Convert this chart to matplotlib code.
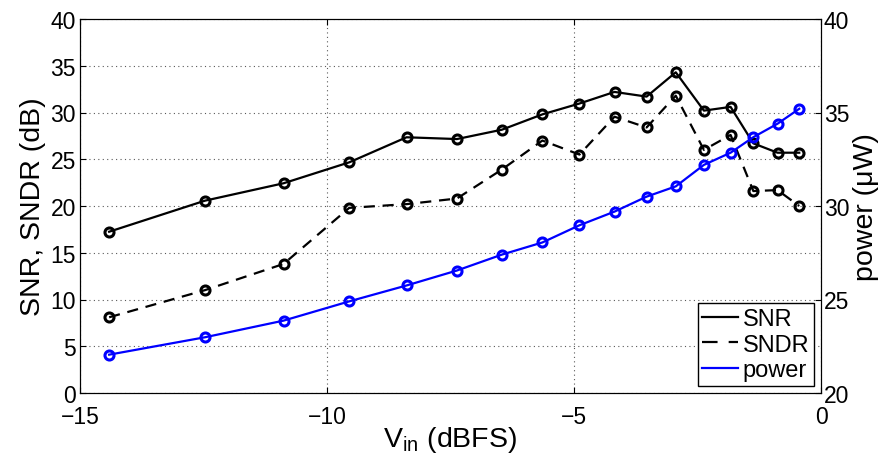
import numpy as np
import matplotlib
matplotlib.use("Agg")
from matplotlib import pyplot as plt
from matplotlib.lines import Line2D

plt.rcParams["font.family"] = ["Liberation Sans", "DejaVu Sans"]

# input level (dBFS)
vin = [-14.41, -12.47, -10.88, -9.55, -8.39, -7.37, -6.46, -5.64, -4.89,
       -4.18, -3.53, -2.94, -2.37, -1.83, -1.37, -0.88, -0.44]
snr = [17.25, 20.57, 22.43, 24.67, 27.35, 27.16, 28.16, 29.8, 30.96,
       32.2, 31.7, 34.3, 30.2, 30.6, 26.7, 25.7, 25.7]
sndr = [8.1, 11.0, 13.8, 19.8, 20.2, 20.8, 23.9, 27.0, 25.5,
        29.55, 28.4, 31.8, 26.0, 27.6, 21.6, 21.7, 20.0]
# power in uW (right axis)
power = [22.05, 22.98, 23.87, 24.9, 25.75, 26.55, 27.4, 28.05, 28.97,
         29.7, 30.5, 31.05, 32.2, 32.85, 33.68, 34.4, 35.2]

fig = plt.figure(figsize=(8.85, 4.56), dpi=100)
ax = fig.add_axes([80 / 885, 1 - 394 / 456, 741 / 885, 374 / 456])

ax.plot(vin, snr, "-", color="k", lw=1.6, marker="o", ms=6.5, mfc="none", mew=2.2)
ax.plot(vin, sndr, "--", color="k", lw=1.6, dashes=(5, 3.5), marker="o", ms=6.5,
        mfc="none", mew=2.2)

ax.set_xlim(-15, 0)
ax.set_ylim(0, 40)
ax.set_xticks([-15, -10, -5, 0])
ax.set_yticks(np.arange(0, 41, 5))
ax.grid(True, color="0.35", linestyle=(0, (1, 3)), lw=0.8)
ax.tick_params(direction="in", labelsize=16.5, top=True, length=4)
ax.tick_params(axis="x", pad=9)
ax.tick_params(axis="y", pad=3)
ax.set_ylabel("SNR, SNDR (dB)", fontsize=20.5, labelpad=3)
ax.set_xlabel("V$_{\\mathregular{in}}$ (dBFS)", fontsize=20.5, labelpad=-3)

ax2 = ax.twinx()
ax2.plot(vin, power, "-", color="#0000ff", lw=1.6, marker="o", ms=6.5, mfc="none", mew=2.2)
ax2.set_ylim(20, 40)
ax2.set_yticks(np.arange(20, 41, 5))
ax2.tick_params(direction="in", labelsize=16.5, length=4, pad=2)
ax2.set_ylabel("power (\u03bcW)", fontsize=20.5, labelpad=3)

handles = [
    Line2D([], [], color="k", lw=1.6),
    Line2D([], [], color="k", lw=1.6, ls="--", dashes=(7, 5)),
    Line2D([], [], color="#0000ff", lw=1.6),
]
leg = ax2.legend(handles, ["SNR", "SNDR", "power"], loc="lower right",
                 fontsize=17, frameon=True, fancybox=False, framealpha=1,
                 edgecolor="k", handlelength=1.5, handletextpad=0.2,
                 borderpad=0.2, labelspacing=0.15, borderaxespad=0.3)
leg.get_frame().set_linewidth(1)

plt.savefig("out.png", dpi=100)
plt.close()
